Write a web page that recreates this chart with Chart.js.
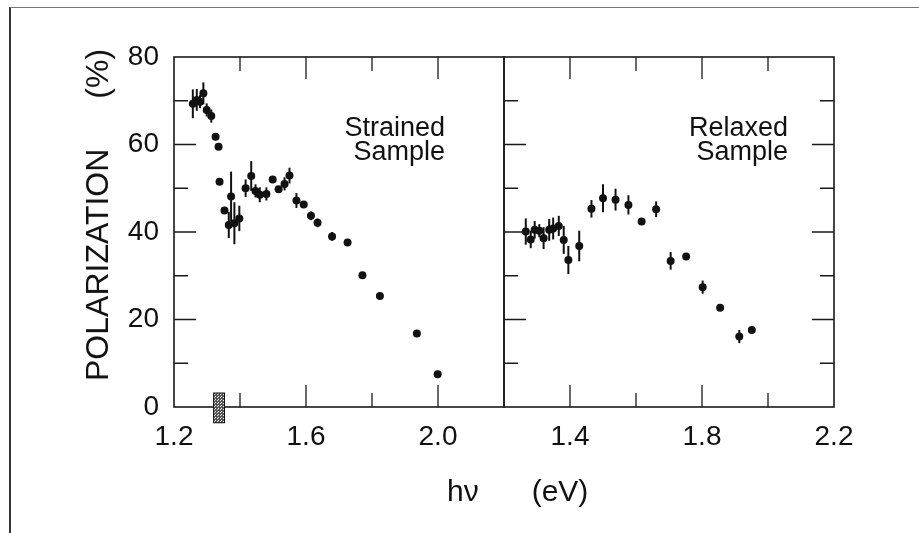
<!DOCTYPE html>
<html>
<head>
<meta charset="utf-8">
<script src="https://cdn.jsdelivr.net/npm/chart.js@4.4.1/dist/chart.umd.min.js"></script>
<style>
  html, body { margin: 0; padding: 0; background: #fff; }
  #wrap { position: relative; width: 919px; height: 533px; overflow: hidden; font-family: "Liberation Sans", Arial, Helvetica, sans-serif; color: #111; }
  #wrap canvas { position: absolute; left: 0; top: 0; }
  .sheet { position: absolute; left: 9px; top: 7px; right: -5px; bottom: -5px; border-top: 1.5px solid #777; border-left: 2px solid #333; }
  .label { position: absolute; white-space: nowrap; }
  .sample { font-size: 27px; text-align: right; line-height: 24px; }
  #ytitle { left: 96.7px; top: 215px; font-size: 32px; line-height: 32px; transform: translate(-50%, -50%) rotate(-90deg); }
  #ytitle span + span { margin-left: 50px; }
  #xtitle { left: 447px; top: 473px; font-size: 30px; line-height: 36px; }
  #xtitle span + span { margin-left: 53px; }
</style>
</head>
<body>
<div id="wrap">
  <div class="sheet"></div>
  <canvas id="strainedCanvas" width="919" height="533"></canvas>
  <canvas id="relaxedCanvas" width="919" height="533"></canvas>
  <div class="label sample" style="left:300px; width:145px; top:115px;">Strained<br>Sample</div>
  <div class="label sample" style="left:640px; width:148px; top:115px;">Relaxed<br>Sample</div>
  <div class="label" id="ytitle"><span>POLARIZATION</span><span>(%)</span></div>
  <div class="label" id="xtitle"><span>hν</span><span>(eV)</span></div>
</div>
<script>
// Strained sample: photon energy (eV), polarization (%), error bar half height
const strainedEnergy = [1.257, 1.269, 1.279, 1.289, 1.299, 1.313, 1.326, 1.335, 1.338, 1.353,
  1.366, 1.373, 1.383, 1.398, 1.417, 1.434, 1.447, 1.460, 1.480, 1.499,
  1.517, 1.535, 1.550, 1.571, 1.593, 1.615, 1.635, 1.679, 1.726, 1.771,
  1.824, 1.936, 1.999];
const strainedPol = [69.3, 70.2, 69.8, 71.7, 67.9, 66.5, 61.8, 59.5, 51.5, 44.9,
  41.6, 48.1, 42.0, 43.1, 50.0, 52.8, 49.4, 48.5, 48.7, 52.0,
  49.8, 51.0, 52.9, 47.2, 46.3, 43.7, 42.1, 39.0, 37.6, 30.1,
  25.4, 16.8, 7.5];
const strainedErr = [3.3, 2.5, 1.5, 2.5, 1.5, 1.5, 0, 0, 0, 0,
  3.0, 5.7, 4.8, 2.9, 2.0, 3.4, 1.5, 1.7, 1.5, 0,
  0, 1.5, 1.8, 1.7, 0, 1.0, 1.0, 1.0, 0, 0,
  0, 0, 0];

// Relaxed sample
const relaxedEnergy = [1.266, 1.281, 1.293, 1.307, 1.320, 1.337, 1.349, 1.366, 1.381, 1.395,
  1.428, 1.465, 1.500, 1.538, 1.577, 1.617, 1.661, 1.705, 1.752, 1.802,
  1.855, 1.913, 1.951];
const relaxedPol = [40.1, 38.3, 40.5, 40.3, 38.6, 40.5, 40.8, 41.4, 38.2, 33.6,
  36.8, 45.3, 47.7, 47.4, 46.2, 42.4, 45.2, 33.4, 34.4, 27.4,
  22.7, 16.1, 17.6];
const relaxedErr = [3.0, 2.0, 2.0, 1.5, 2.5, 2.5, 2.5, 2.3, 3.2, 3.2,
  3.5, 2.0, 3.2, 2.5, 2.2, 0, 1.8, 2.0, 0, 1.5,
  0, 1.5, 0];

// axes
const yLabels = [0, 20, 40, 60, 80];
const yMinor = [10, 30, 50, 70];
const strainedXLabels = [1.2, 1.6, 2.0];
const relaxedXLabels = [1.4, 1.8, 2.2];
const xTickMarks = [1.4, 1.6, 1.8, 2.0];

// shaded band on the energy axis (eV) and its vertical extent (%)
const bandEnergy = [1.32, 1.353];
const bandPol = [3.2, -3.6];

const FONT = '"Liberation Sans", Arial, Helvetica, sans-serif';

function toPoints(xs, ys) {
    return xs.map((x, i) => ({ x: x, y: ys[i] }));
}

function stipple(ctx) {
    const c = document.createElement('canvas');
    c.width = 3; c.height = 3;
    const g = c.getContext('2d');
    g.fillStyle = '#555';
    g.fillRect(0, 0, 3, 3);
    g.fillStyle = '#eee';
    g.fillRect(1, 1, 1, 1);
    g.fillRect(2, 0, 1, 1);
    return ctx.createPattern(c, 'repeat');
}

// frame, inward ticks, error bars, band
const panelFrame = {
    id: 'panelFrame',
    beforeDatasetsDraw(chart) {
        const { ctx, scales: { x, y } } = chart;
        ctx.save();
        ctx.strokeStyle = '#111';
        ctx.lineWidth = 2;
        chart.data.datasets.forEach(ds => {
            ds.data.forEach((p, i) => {
                const e = ds.errors[i];
                if (!e) return;
                const px = x.getPixelForValue(p.x);
                ctx.beginPath();
                ctx.moveTo(px, y.getPixelForValue(p.y - e));
                ctx.lineTo(px, y.getPixelForValue(p.y + e));
                ctx.stroke();
            });
        });
        ctx.restore();
    },
    afterDatasetsDraw(chart, args, opts) {
        const { ctx, chartArea: a, scales: { x, y } } = chart;
        ctx.save();
        ctx.strokeStyle = '#1a1a1a';
        ctx.lineWidth = 1.6;
        ctx.strokeRect(a.left, a.top, a.right - a.left, a.bottom - a.top);

        ctx.lineWidth = 1.3;
        ctx.beginPath();
        xTickMarks.forEach(v => {
            const px = x.getPixelForValue(v);
            const len = opts.xMajor.includes(v) ? 22 : 14;
            ctx.moveTo(px, a.top);
            ctx.lineTo(px, a.top + len);
            ctx.moveTo(px, a.bottom);
            ctx.lineTo(px, a.bottom - len);
        });
        yLabels.concat(yMinor).forEach(v => {
            if (v === 0 || v === 80) return;
            const py = y.getPixelForValue(v);
            const len = yLabels.includes(v) ? 22 : 14;
            opts.ySides.forEach(side => {
                if (side === 'left') {
                    ctx.moveTo(a.left, py);
                    ctx.lineTo(a.left + len, py);
                } else {
                    ctx.moveTo(a.right, py);
                    ctx.lineTo(a.right - len, py);
                }
            });
        });
        ctx.stroke();

        if (opts.band) {
            const x0 = x.getPixelForValue(bandEnergy[0]);
            const x1 = x.getPixelForValue(bandEnergy[1]);
            const y0 = y.getPixelForValue(bandPol[0]);
            const y1 = y.getPixelForValue(bandPol[1]);
            ctx.fillStyle = stipple(ctx);
            ctx.fillRect(x0, y0, x1 - x0, y1 - y0);
            ctx.lineWidth = 1;
            ctx.strokeStyle = '#111';
            ctx.strokeRect(x0, y0, x1 - x0, y1 - y0);
        }
        ctx.restore();
    }
};

function xScale(labels) {
    return {
        type: 'linear',
        min: 1.2,
        max: 2.2,
        grid: { display: false, drawTicks: false },
        border: { display: false },
        afterBuildTicks: s => { s.ticks = labels.map(v => ({ value: v })); },
        afterFit: s => { s.height = 126; },
        ticks: {
            padding: 13,
            maxRotation: 0,
            autoSkip: false,
            color: '#111',
            font: { family: FONT, size: 28 },
            callback: v => Number(v).toFixed(1)
        }
    };
}

function pointSet(xs, ys, errs) {
    return {
        data: toPoints(xs, ys),
        errors: errs,
        backgroundColor: '#111',
        borderWidth: 0,
        pointRadius: 4,
        pointHoverRadius: 4
    };
}

const strainedConfig = {
    type: 'scatter',
    data: { datasets: [pointSet(strainedEnergy, strainedPol, strainedErr)] },
    options: {
        responsive: false,
        animation: false,
        events: [],
        layout: { padding: { left: 0, top: 57, right: 415, bottom: 0 } },
        scales: {
            x: xScale(strainedXLabels),
            y: {
                min: 0,
                max: 80,
                grid: { display: false, drawTicks: false },
                border: { display: false },
                afterBuildTicks: s => { s.ticks = yLabels.map(v => ({ value: v })); },
                afterFit: s => { s.width = 174; },
                ticks: { padding: 15, color: '#111', font: { family: FONT, size: 28 } }
            }
        },
        plugins: {
            legend: { display: false },
            tooltip: { enabled: false },
            panelFrame: { xMajor: [1.6, 2.0], ySides: ['left'], band: true }
        }
    },
    plugins: [panelFrame]
};

const relaxedConfig = {
    type: 'scatter',
    data: { datasets: [pointSet(relaxedEnergy, relaxedPol, relaxedErr)] },
    options: {
        responsive: false,
        animation: false,
        events: [],
        layout: { padding: { left: 504, top: 57, right: 85, bottom: 0 } },
        scales: {
            x: xScale(relaxedXLabels),
            y: { display: false, min: 0, max: 80 }
        },
        plugins: {
            legend: { display: false },
            tooltip: { enabled: false },
            panelFrame: { xMajor: [1.4, 1.8], ySides: ['left', 'right'], band: false }
        }
    },
    plugins: [panelFrame]
};

const strainedChart = new Chart(document.getElementById('strainedCanvas').getContext('2d'), strainedConfig);
const relaxedChart = new Chart(document.getElementById('relaxedCanvas').getContext('2d'), relaxedConfig);
</script>
</body>
</html>
